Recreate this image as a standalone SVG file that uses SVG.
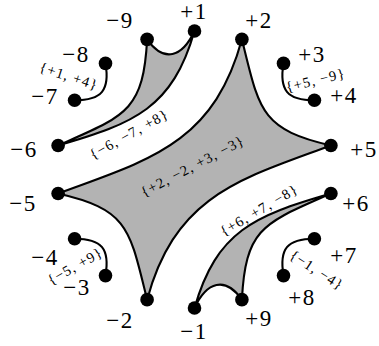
<svg xmlns="http://www.w3.org/2000/svg" width="379" height="346" viewBox="0 0 379 346">
<style>
.region{fill:#b3b3b3;stroke:#000;stroke-width:2.1;stroke-linejoin:round}
.arc{fill:none;stroke:#000;stroke-width:2.1;stroke-linecap:round}
.dot{fill:#000}
text{font-family:'Liberation Serif','DejaVu Serif',serif;fill:#000;text-anchor:middle}
.lbl{font-size:23px;letter-spacing:1.5px}
.set{font-size:14.5px;letter-spacing:1.1px}
</style>
<rect width="379" height="346" fill="#fff"/>
<g id="regions">
<path id="region-center" class="region" d="M58.1,193.55 C147.2,160.4 213.3,144.8 241.9,39.35 C259.4,110 260,129.2 330.9,145.45 C241.8,178.6 175.7,194.2 147.1,299.65 C129.6,229 129,209.8 58.1,193.55 Z"/>
<path id="region-topleft" class="region" d="M58.1,145.45 C124.6,116 143.4,112 147.1,39.35 C163.9,63.1 182.2,57.3 194.5,31 C172.4,107.8 135,123.3 58.1,145.45 Z"/>
<path id="region-bottomright" class="region" d="M330.9,193.55 C264.4,223 245.6,227 241.9,299.65 C225.1,275.9 206.8,281.7 194.5,308 C216.6,231.2 254,215.7 330.9,193.55 Z"/>
</g>
<g id="connectors">
<path class="arc" d="M105.5,63.4 C110,90 102,100.25 74.6,100.25"/>
<path class="arc" d="M283.5,63.4 C279,90 287,100.25 314.4,100.25"/>
<path class="arc" d="M283.5,275.6 C279,249 287,238.75 314.4,238.75"/>
<path class="arc" d="M105.5,275.6 C110,249 102,238.75 74.6,238.75"/>
</g>
<g id="set-labels">
<text class="set" font-family="Liberation Serif, DejaVu Serif, serif" transform="translate(69,76) rotate(18)" y="5">{+1, +4}</text>
<text class="set" font-family="Liberation Serif, DejaVu Serif, serif" transform="translate(315.5,80) rotate(-14)" y="5">{+5, −9}</text>
<text class="set" font-family="Liberation Serif, DejaVu Serif, serif" transform="translate(129,134) rotate(-29)" y="5">{−6, −7, +8}</text>
<text class="set" font-family="Liberation Serif, DejaVu Serif, serif" transform="translate(192.5,166) rotate(-27.7)" y="5">{+2, −2, +3, −3}</text>
<text class="set" font-family="Liberation Serif, DejaVu Serif, serif" transform="translate(75,266) rotate(-29.5)" y="5">{−5, +9}</text>
<text class="set" font-family="Liberation Serif, DejaVu Serif, serif" transform="translate(259,210) rotate(-30.5)" y="5">{+6, +7, −8}</text>
<text class="set" font-family="Liberation Serif, DejaVu Serif, serif" transform="translate(317,270) rotate(33)" y="5">{−1, −4}</text>
</g>
<g id="n-p1"><circle class="dot" cx="194.5" cy="31" r="6.8"/><text class="lbl" x="194" y="19">+1</text></g>
<g id="n-p2"><circle class="dot" cx="241.9" cy="39.35" r="6.8"/><text class="lbl" x="259" y="28">+2</text></g>
<g id="n-p3"><circle class="dot" cx="283.5" cy="63.4" r="6.8"/><text class="lbl" x="312" y="62">+3</text></g>
<g id="n-p4"><circle class="dot" cx="314.4" cy="100.25" r="6.8"/><text class="lbl" x="344" y="103">+4</text></g>
<g id="n-p5"><circle class="dot" cx="330.9" cy="145.45" r="6.8"/><text class="lbl" x="364" y="157">+5</text></g>
<g id="n-p6"><circle class="dot" cx="330.9" cy="193.55" r="6.8"/><text class="lbl" x="356" y="211">+6</text></g>
<g id="n-p7"><circle class="dot" cx="314.4" cy="238.75" r="6.8"/><text class="lbl" x="344" y="263">+7</text></g>
<g id="n-p8"><circle class="dot" cx="283.5" cy="275.6" r="6.8"/><text class="lbl" x="302" y="305">+8</text></g>
<g id="n-p9"><circle class="dot" cx="241.9" cy="299.65" r="6.8"/><text class="lbl" x="259" y="326">+9</text></g>
<g id="n-m1"><circle class="dot" cx="194.5" cy="308" r="6.8"/><text class="lbl" x="194" y="339">−1</text></g>
<g id="n-m2"><circle class="dot" cx="147.1" cy="299.65" r="6.8"/><text class="lbl" x="120" y="328">−2</text></g>
<g id="n-m3"><circle class="dot" cx="105.5" cy="275.6" r="6.8"/><text class="lbl" x="77" y="295">−3</text></g>
<g id="n-m4"><circle class="dot" cx="74.6" cy="238.75" r="6.8"/><text class="lbl" x="45" y="265">−4</text></g>
<g id="n-m5"><circle class="dot" cx="58.1" cy="193.55" r="6.8"/><text class="lbl" x="23" y="211">−5</text></g>
<g id="n-m6"><circle class="dot" cx="58.1" cy="145.45" r="6.8"/><text class="lbl" x="24" y="157">−6</text></g>
<g id="n-m7"><circle class="dot" cx="74.6" cy="100.25" r="6.8"/><text class="lbl" x="45" y="104">−7</text></g>
<g id="n-m8"><circle class="dot" cx="105.5" cy="63.4" r="6.8"/><text class="lbl" x="76" y="62">−8</text></g>
<g id="n-m9"><circle class="dot" cx="147.1" cy="39.35" r="6.8"/><text class="lbl" x="120" y="28">−9</text></g>
</svg>
